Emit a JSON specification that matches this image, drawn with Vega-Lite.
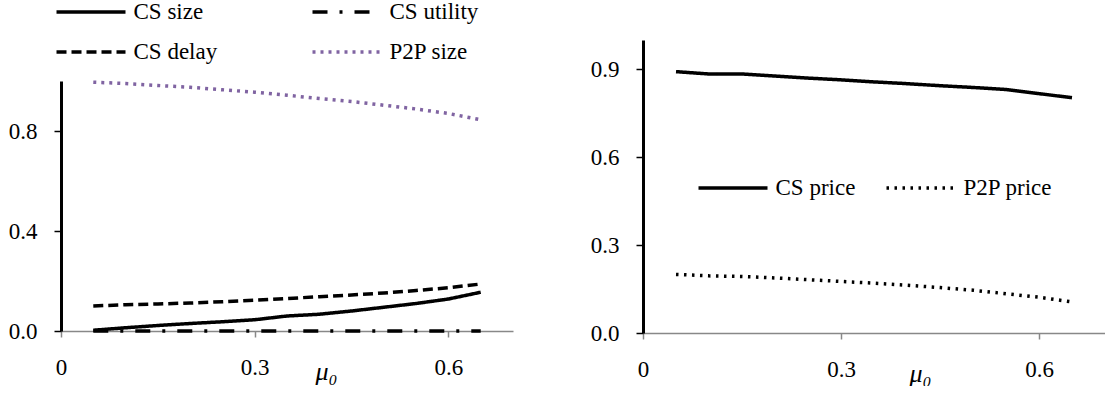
{
  "$schema": "https://vega.github.io/schema/vega-lite/v6.json",
  "padding": {"left": 8, "top": 0, "right": 0, "bottom": 0},
  "bounds": "flush",
  "spacing": 130,
  "resolve": {
    "scale": {"color": "independent", "strokeDash": "independent"},
    "legend": {"color": "independent", "strokeDash": "independent"}
  },
  "config": {
    "font": "Liberation Serif",
    "view": {"stroke": null},
    "axis": {
      "grid": false,
      "labelFont": "Liberation Serif",
      "labelFontSize": 23,
      "labelColor": "black",
      "titleFont": "Liberation Serif",
      "titleColor": "black",
      "titleFontWeight": "normal"
    },
    "axisX": {
      "domainColor": "#888888",
      "domainWidth": 1.5,
      "tickColor": "#888888",
      "tickWidth": 1.5,
      "tickSize": 6,
      "labelFlush": false,
      "labelBaseline": "alphabetic",
      "labelPadding": 37,
      "titleFontSize": 26,
      "titleFontStyle": "italic",
      "titleBaseline": "alphabetic",
      "titleAlign": "center",
      "titleAnchor": null
    },
    "axisY": {
      "domainColor": "black",
      "domainWidth": 3,
      "tickColor": "black",
      "tickWidth": 1.5,
      "tickSize": 7,
      "labelPadding": 17,
      "labelBaseline": "middle"
    },
    "legend": {
      "title": null,
      "orient": "none",
      "symbolType": "M-3.45,0H3.45",
      "symbolSize": 400,
      "symbolStrokeWidth": 3.5,
      "labelFont": "Liberation Serif",
      "labelFontSize": 23,
      "labelColor": "black",
      "labelOffset": 30.5,
      "labelLimit": 300,
      "padding": 0
    }
  },
  "datasets": {
    "sizes": [
      {"mu": 0.05, "series": "CS size", "value": 0.003},
      {"mu": 0.10, "series": "CS size", "value": 0.013},
      {"mu": 0.15, "series": "CS size", "value": 0.022},
      {"mu": 0.20, "series": "CS size", "value": 0.030},
      {"mu": 0.25, "series": "CS size", "value": 0.037},
      {"mu": 0.30, "series": "CS size", "value": 0.045},
      {"mu": 0.35, "series": "CS size", "value": 0.060},
      {"mu": 0.40, "series": "CS size", "value": 0.067},
      {"mu": 0.45, "series": "CS size", "value": 0.080},
      {"mu": 0.50, "series": "CS size", "value": 0.095},
      {"mu": 0.55, "series": "CS size", "value": 0.110},
      {"mu": 0.60, "series": "CS size", "value": 0.128},
      {"mu": 0.65, "series": "CS size", "value": 0.155},
      {"mu": 0.05, "series": "CS utility", "value": 0.0},
      {"mu": 0.10, "series": "CS utility", "value": 0.0},
      {"mu": 0.15, "series": "CS utility", "value": 0.0},
      {"mu": 0.20, "series": "CS utility", "value": 0.0},
      {"mu": 0.25, "series": "CS utility", "value": 0.0},
      {"mu": 0.30, "series": "CS utility", "value": 0.0},
      {"mu": 0.35, "series": "CS utility", "value": 0.0},
      {"mu": 0.40, "series": "CS utility", "value": 0.0},
      {"mu": 0.45, "series": "CS utility", "value": 0.0},
      {"mu": 0.50, "series": "CS utility", "value": 0.0},
      {"mu": 0.55, "series": "CS utility", "value": 0.0},
      {"mu": 0.60, "series": "CS utility", "value": 0.0},
      {"mu": 0.65, "series": "CS utility", "value": 0.0},
      {"mu": 0.05, "series": "CS delay", "value": 0.100},
      {"mu": 0.10, "series": "CS delay", "value": 0.105},
      {"mu": 0.15, "series": "CS delay", "value": 0.108},
      {"mu": 0.20, "series": "CS delay", "value": 0.112},
      {"mu": 0.25, "series": "CS delay", "value": 0.117},
      {"mu": 0.30, "series": "CS delay", "value": 0.123},
      {"mu": 0.35, "series": "CS delay", "value": 0.130},
      {"mu": 0.40, "series": "CS delay", "value": 0.137},
      {"mu": 0.45, "series": "CS delay", "value": 0.144},
      {"mu": 0.50, "series": "CS delay", "value": 0.152},
      {"mu": 0.55, "series": "CS delay", "value": 0.162},
      {"mu": 0.60, "series": "CS delay", "value": 0.173},
      {"mu": 0.65, "series": "CS delay", "value": 0.188},
      {"mu": 0.05, "series": "P2P size", "value": 0.995},
      {"mu": 0.10, "series": "P2P size", "value": 0.990},
      {"mu": 0.15, "series": "P2P size", "value": 0.982},
      {"mu": 0.20, "series": "P2P size", "value": 0.975},
      {"mu": 0.25, "series": "P2P size", "value": 0.965},
      {"mu": 0.30, "series": "P2P size", "value": 0.955},
      {"mu": 0.35, "series": "P2P size", "value": 0.943},
      {"mu": 0.40, "series": "P2P size", "value": 0.930},
      {"mu": 0.45, "series": "P2P size", "value": 0.918},
      {"mu": 0.50, "series": "P2P size", "value": 0.903},
      {"mu": 0.55, "series": "P2P size", "value": 0.888},
      {"mu": 0.60, "series": "P2P size", "value": 0.870},
      {"mu": 0.65, "series": "P2P size", "value": 0.845}
    ],
    "prices": [
      {"mu": 0.05, "series": "CS price", "value": 0.892},
      {"mu": 0.10, "series": "CS price", "value": 0.884},
      {"mu": 0.15, "series": "CS price", "value": 0.884},
      {"mu": 0.20, "series": "CS price", "value": 0.877},
      {"mu": 0.25, "series": "CS price", "value": 0.870},
      {"mu": 0.30, "series": "CS price", "value": 0.864},
      {"mu": 0.35, "series": "CS price", "value": 0.857},
      {"mu": 0.40, "series": "CS price", "value": 0.851},
      {"mu": 0.45, "series": "CS price", "value": 0.844},
      {"mu": 0.50, "series": "CS price", "value": 0.838},
      {"mu": 0.55, "series": "CS price", "value": 0.831},
      {"mu": 0.60, "series": "CS price", "value": 0.817},
      {"mu": 0.65, "series": "CS price", "value": 0.803},
      {"mu": 0.05, "series": "P2P price", "value": 0.200},
      {"mu": 0.10, "series": "P2P price", "value": 0.195},
      {"mu": 0.15, "series": "P2P price", "value": 0.193},
      {"mu": 0.20, "series": "P2P price", "value": 0.188},
      {"mu": 0.25, "series": "P2P price", "value": 0.182},
      {"mu": 0.30, "series": "P2P price", "value": 0.176},
      {"mu": 0.35, "series": "P2P price", "value": 0.170},
      {"mu": 0.40, "series": "P2P price", "value": 0.163},
      {"mu": 0.45, "series": "P2P price", "value": 0.155},
      {"mu": 0.50, "series": "P2P price", "value": 0.146},
      {"mu": 0.55, "series": "P2P price", "value": 0.134},
      {"mu": 0.60, "series": "P2P price", "value": 0.122},
      {"mu": 0.65, "series": "P2P price", "value": 0.106}
    ]
  },
  "hconcat": [
    {
      "width": 452,
      "height": 291,
      "data": {"name": "sizes"},
      "mark": {"type": "line", "strokeWidth": 3.5},
      "encoding": {
        "x": {
          "field": "mu", "type": "quantitative",
          "scale": {"domain": [0, 0.7], "nice": false},
          "axis": {"values": [0, 0.3, 0.6], "format": "~g", "title": "μ₀", "titleX": 265, "titleY": 48}
        },
        "y": {
          "field": "value", "type": "quantitative",
          "scale": {"domain": [0, 1], "range": [291, 41], "nice": false, "zero": false},
          "axis": {"values": [0, 0.4, 0.8], "format": ".1f", "title": null}
        },
        "color": {
          "field": "series", "type": "nominal",
          "scale": {"domain": ["CS size", "CS utility", "CS delay", "P2P size"], "range": ["black", "black", "black", "#8064A2"]},
          "legend": {"legendX": 18, "legendY": -40, "columns": 2, "direction": "horizontal", "columnPadding": 87, "rowPadding": 16}
        },
        "strokeDash": {
          "field": "series", "type": "nominal",
          "scale": {"domain": ["CS size", "CS utility", "CS delay", "P2P size"], "range": [[1, 0], [15, 12, 3, 12], [10, 5], [3, 5]]},
          "legend": {"legendX": 18, "legendY": -40, "columns": 2, "direction": "horizontal", "columnPadding": 87, "rowPadding": 16}
        }
      }
    },
    {
      "width": 462,
      "height": 293,
      "data": {"name": "prices"},
      "mark": {"type": "line", "strokeWidth": 3.5},
      "encoding": {
        "x": {
          "field": "mu", "type": "quantitative",
          "scale": {"domain": [0, 0.7], "nice": false},
          "axis": {"values": [0, 0.3, 0.6], "format": "~g", "title": "μ₀", "titleX": 277, "titleY": 48}
        },
        "y": {
          "field": "value", "type": "quantitative",
          "scale": {"domain": [0, 1], "nice": false},
          "axis": {"values": [0, 0.3, 0.6, 0.9], "format": ".1f", "title": null}
        },
        "color": {
          "field": "series", "type": "nominal",
          "scale": {"domain": ["CS price", "P2P price"], "range": ["black", "black"]},
          "legend": {"legendX": 78, "legendY": 136, "columns": 2, "direction": "horizontal", "columnPadding": 23}
        },
        "strokeDash": {
          "field": "series", "type": "nominal",
          "scale": {"domain": ["CS price", "P2P price"], "range": [[1, 0], [2.5, 5.5]]},
          "legend": {"legendX": 78, "legendY": 136, "columns": 2, "direction": "horizontal", "columnPadding": 23}
        }
      }
    }
  ]
}
